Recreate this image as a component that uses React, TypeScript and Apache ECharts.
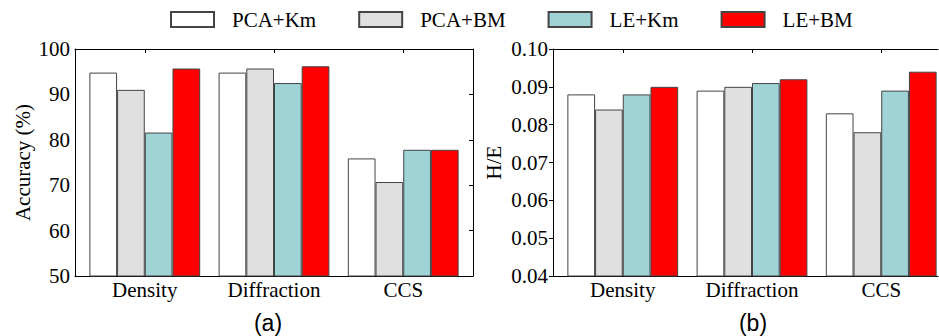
import React, { useEffect, useRef } from "react";
import * as echarts from "echarts";

const categories = ["Density", "Diffraction", "CCS"];
const seriesNames = ["PCA+Km", "PCA+BM", "LE+Km", "LE+BM"];
const seriesColors = ["#ffffff", "#e0e0e0", "#9fd3d6", "#ff0000"];

// (a) Accuracy (%)
const accPcaKm = [94.8, 94.8, 75.9];
const accPcaBm = [91.0, 95.7, 70.7];
const accLeKm = [81.6, 92.5, 77.8];
const accLeBm = [95.7, 96.2, 77.8];

// (b) H/E
const hePcaKm = [0.088, 0.089, 0.083];
const hePcaBm = [0.084, 0.09, 0.078];
const heLeKm = [0.088, 0.091, 0.089];
const heLeBm = [0.09, 0.092, 0.094];

const accTicks = { min: 50, max: 100, interval: 10 };
const heTicks = { min: 0.04, max: 0.1, interval: 0.01 };

const FONT = "Liberation Serif";

export default function App() {
  const ref = useRef<HTMLDivElement>(null);
  useEffect(() => {
    if (!ref.current) return;
    const chart = echarts.init(ref.current, undefined, { renderer: "svg" });
    const accSeries = [accPcaKm, accPcaBm, accLeKm, accLeBm];
    const heSeries = [hePcaKm, hePcaBm, heLeKm, heLeBm];
    const xMin = 0.46;
    const xMaxA = 3.54;
    // right panel is cut by the picture's edge: same scale, shorter range
    const xMaxB = 0.46 + 385 / (398 / 3.08);
    const catPos = categories.map((_, i) => i + 1);

    const makeX = (gridIndex: number, xMax: number) => [
      {
        type: "value",
        gridIndex,
        position: "bottom",
        min: xMin,
        max: xMax,
        splitLine: { show: false },
        axisLine: { show: true, onZero: false, lineStyle: { color: "#000", width: 1 } },
        axisTick: { show: false },
        axisLabel: {
          customValues: catPos,
          formatter: (v: number) => categories[Math.round(v) - 1] ?? "",
          fontFamily: FONT,
          fontSize: 21,
          color: "#000",
          margin: 3,
        },
      },
      {
        type: "value",
        gridIndex,
        position: "top",
        min: xMin,
        max: xMax,
        splitLine: { show: false },
        axisLine: { show: true, onZero: false, lineStyle: { color: "#000", width: 1 } },
        axisTick: { show: true, inside: true, length: 4, customValues: catPos, lineStyle: { color: "#000" } },
        axisLabel: { show: false },
      },
    ];

    const makeY = (
      gridIndex: number,
      t: { min: number; max: number; interval: number },
      name: string,
      nameGap: number,
      fmt: (v: number) => string,
      outerTicks: boolean,
      showRight: boolean
    ) => [
      {
        type: "value",
        gridIndex,
        position: "left",
        min: t.min,
        max: t.max,
        interval: t.interval,
        name,
        nameLocation: "middle",
        nameGap,
        nameTextStyle: { fontFamily: FONT, fontSize: 21, color: "#000" },
        splitLine: { show: false },
        axisLine: { show: true, onZero: false, lineStyle: { color: "#000", width: 1 } },
        axisTick: { show: outerTicks, inside: false, length: 4, lineStyle: { color: "#000" } },
        axisLabel: { fontFamily: FONT, fontSize: 21, color: "#000", margin: 5, formatter: fmt },
      },
      {
        type: "value",
        gridIndex,
        position: "right",
        show: showRight,
        min: t.min,
        max: t.max,
        interval: t.interval,
        splitLine: { show: false },
        axisLine: { show: true, onZero: false, lineStyle: { color: "#000", width: 1 } },
        axisTick: { show: true, inside: true, length: 4, lineStyle: { color: "#000" } },
        axisLabel: { show: false },
      },
    ];

    const makeSeries = (data: number[][], xAxisIndex: number, yAxisIndex: number) =>
      data.map((vals, si) => ({
        type: "bar",
        name: seriesNames[si],
        xAxisIndex,
        yAxisIndex,
        barWidth: 27.7,
        barGap: "0%",
        itemStyle: {
          color: seriesColors[si],
          borderColor: "#444",
          borderWidth: 1,
        },
        data: vals.map((v, i) => [catPos[i], v]),
      }));

    chart.setOption({
      animation: false,
      backgroundColor: "#fff",
      textStyle: { fontFamily: FONT },
      legend: {
        data: seriesNames,
        left: 170,
        top: 9,
        padding: 0,
        itemWidth: 43,
        itemHeight: 15,
        itemGap: 42,
        icon: "rect",
        selectedMode: false,
        textStyle: { fontFamily: FONT, fontSize: 21, color: "#000", padding: [0, 0, 0, 13] },
      },
      grid: [
        { left: 75, top: 49, width: 398, height: 227 },
        { left: 553, top: 49, width: 385, height: 227 },
      ],
      xAxis: [...makeX(0, xMaxA), ...makeX(1, xMaxB)],
      yAxis: [
        ...makeY(0, accTicks, "Accuracy (%)", 42, (v: number) => String(v), false, true),
        ...makeY(1, heTicks, "H/E", 49, (v: number) => v.toFixed(2), true, false),
      ],
      series: [...makeSeries(accSeries, 0, 0), ...makeSeries(heSeries, 2, 2)],
      graphic: [
        {
          type: "text",
          x: 268,
          y: 323,
          style: {
            text: "(a)",
            fontFamily: "Liberation Sans",
            fontSize: 23,
            fill: "#000",
            align: "center",
            verticalAlign: "middle",
          },
        },
        {
          type: "text",
          x: 753,
          y: 323,
          style: {
            text: "(b)",
            fontFamily: "Liberation Sans",
            fontSize: 23,
            fill: "#000",
            align: "center",
            verticalAlign: "middle",
          },
        },
      ],
    });
    return () => chart.dispose();
  }, []);
  return (
    <div
      ref={ref}
      style={{ position: "fixed", left: 0, top: 0, width: 939, height: 336, background: "#fff" }}
    />
  );
}
